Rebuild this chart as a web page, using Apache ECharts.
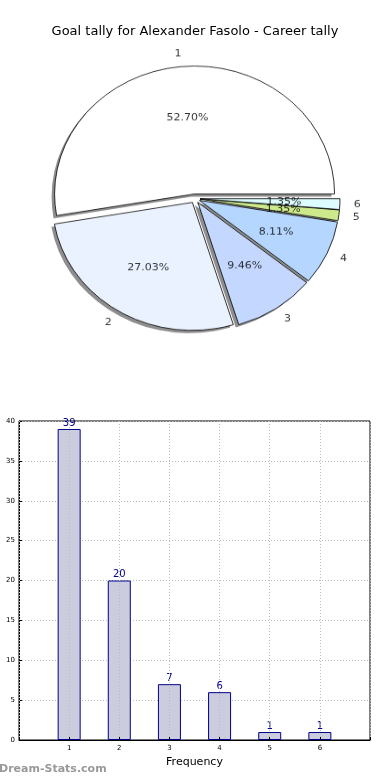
<!DOCTYPE html>
<html><head><meta charset="utf-8">
<script src="https://cdn.jsdelivr.net/npm/echarts@6/dist/echarts.min.js"></script>
<style>
html,body{margin:0;padding:0;background:#fff}
#wrap{position:relative;width:390px;height:780px}
#c{position:absolute;left:0;top:0;width:390px;height:780px}
#p{position:absolute;left:0;top:0;width:390px;height:400px;transform:scaleY(0.914);transform-origin:195px 198.5px}
</style>
</head><body><div id="wrap"><div id="c"></div><div id="p"></div></div>
<script>
var categories = ['1','2','3','4','5','6'];
var goals = [39, 20, 7, 6, 1, 1];
var sliceColors = ['#ffffff','#eaf2ff','#c4d7ff','#b4d6ff','#cde98c','#dcfcff'];
var yTicks = {min:0, max:40, interval:5};

var total = goals.reduce(function(a,b){return a+b;},0);
var R = 140, CX = 195, CY = 198.5, OFF = 5;
var FONT = 'DejaVu Sans';

// cumulative mid-points of each slice (data units), placed through the polar scale
var mids = [], acc = 0;
goals.forEach(function(g){ mids.push(acc + g/2); acc += g; });

function pieData(style){
  return categories.map(function(c,i){
    return {name:c, value:goals[i], selected:true, itemStyle: style(i)};
  });
}
function base(extra){
  var o = {type:'pie', center:[CX,CY], startAngle:0, clockwise:false, radius:[0,R],
    selectedMode:'multiple', selectedOffset:OFF, emphasis:{disabled:true},
    labelLine:{show:false}, label:{show:false}, silent:true};
  for (var k in extra) o[k] = extra[k];
  return o;
}
var offR = OFF / R;
var pctPoints = categories.map(function(c,i){
  return {value:[0.6 + offR, mids[i]], label:{formatter:(goals[i]/total*100).toFixed(2)+'%'}};
});
var namePoints = categories.map(function(c,i){
  var ang = mids[i] / total * 2 * Math.PI;
  return {value:[1.1 + offR, mids[i]], label:{formatter:c, align: Math.cos(ang) > 0 ? 'left' : 'right'}};
});
var txt = {show:true, position:'inside', fontFamily:FONT, fontSize:11, color:'#000', textBorderWidth:0};

var pieOption = {
  animation:false,
  polar:{center:[CX,CY], radius:R*1.2},
  angleAxis:{type:'value', min:0, max:total, startAngle:0, clockwise:false, show:false},
  radiusAxis:{type:'value', min:0, max:1.2, show:false},
  series:[
    base({center:[CX-3,CY+3], z:1,
      data:pieData(function(){return {color:'#8e8e8e', borderWidth:0};}),
      select:{itemStyle:{color:'#8e8e8e', borderWidth:0}}}),
    base({z:2,
      data:pieData(function(i){return {color:sliceColors[i], borderColor:'#000', borderWidth:0.8};}),
      select:{itemStyle:{borderColor:'#000', borderWidth:0.8}}}),
    {type:'scatter', coordinateSystem:'polar', symbolSize:0, silent:true, z:5, clip:false,
      data:pctPoints, emphasis:{disabled:true}, label:txt},
    {type:'scatter', coordinateSystem:'polar', symbolSize:0, silent:true, z:5, clip:false,
      data:namePoints, emphasis:{disabled:true}, label:txt}
  ]
};

var option = {
  animation:false,
  title:{text:'Goal tally for Alexander Fasolo - Career tally', left:'center', top:20,
    textStyle:{fontFamily:FONT, fontSize:13, fontWeight:'normal', color:'#000'}},
  grid:{left:19, right:20, top:421, bottom:40, show:true, borderColor:'#000', borderWidth:1, backgroundColor:'transparent'},
  xAxis:{type:'value', min:0, max:7, interval:1, z:3,
    axisLine:{show:true, lineStyle:{color:'#000'}},
    axisTick:{show:true, inside:true, length:3, lineStyle:{color:'#000'}},
    splitLine:{show:true, lineStyle:{color:'#bbb', type:[1,2]}},
    axisLabel:{fontFamily:FONT, fontSize:7, color:'#000', margin:5,
      formatter:function(v){return (v>=1 && v<=categories.length) ? categories[v-1] : '';}},
    name:'Frequency', nameLocation:'middle', nameGap:17,
    nameTextStyle:{fontFamily:FONT, fontSize:11, color:'#000'}},
  yAxis:{type:'value', min:yTicks.min, max:yTicks.max, interval:yTicks.interval,
    axisLine:{show:true, lineStyle:{color:'#000'}},
    axisTick:{show:true, inside:true, length:3, lineStyle:{color:'#000'}},
    splitLine:{show:true, lineStyle:{color:'#bbb', type:[1,2]}},
    axisLabel:{fontFamily:FONT, fontSize:7, color:'#000', margin:4}},
  series:[
    {type:'bar', barWidth:23,
      data: categories.map(function(c,i){return [i+1, goals[i]];}),
      itemStyle:{color:'#ccccdf', borderColor:'#00008b', borderWidth:1},
      label:{show:true, position:'top', distance:1, fontFamily:FONT, fontSize:10, color:'#00008b'},
      emphasis:{disabled:true}}
  ],
  graphic:[{type:'text', left:-1, top:764, style:{text:'Dream-Stats.com', fill:'#999',
    font:'bold 11px "DejaVu Sans", sans-serif'}}]
};
echarts.init(document.getElementById('c')).setOption(option);
echarts.init(document.getElementById('p')).setOption(pieOption);
</script></body></html>
